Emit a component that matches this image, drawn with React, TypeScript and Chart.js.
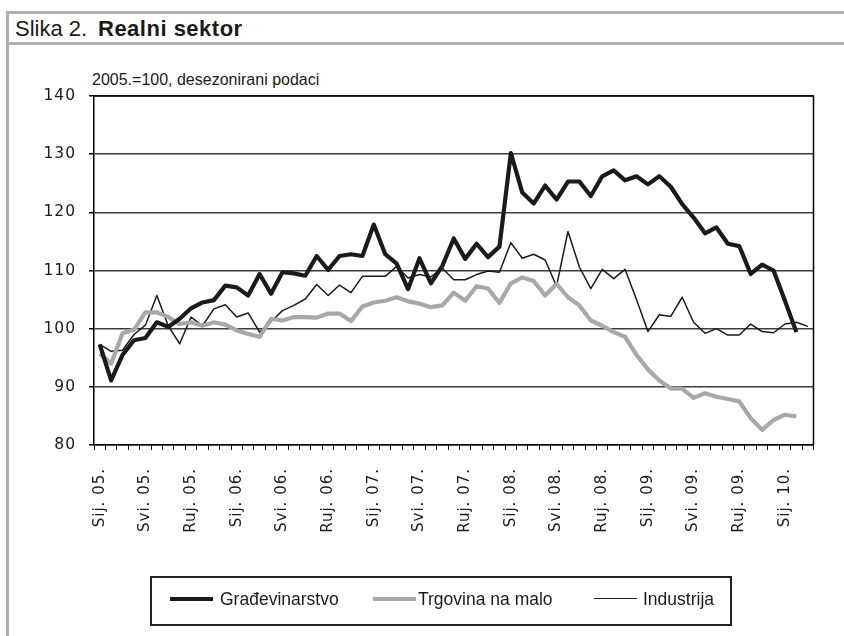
import React, { useEffect, useRef } from 'react';
import { Chart, registerables } from 'chart.js';

Chart.register(...registerables);

const categories: string[] = [
  'Sij. 05.', 'Velj. 05.', 'Ožu. 05.', 'Tra. 05.', 'Svi. 05.', 'Lip. 05.', 'Srp. 05.', 'Kol. 05.', 'Ruj. 05.', 'Lis. 05.', 'Stu. 05.', 'Pro. 05.',
  'Sij. 06.', 'Velj. 06.', 'Ožu. 06.', 'Tra. 06.', 'Svi. 06.', 'Lip. 06.', 'Srp. 06.', 'Kol. 06.', 'Ruj. 06.', 'Lis. 06.', 'Stu. 06.', 'Pro. 06.',
  'Sij. 07.', 'Velj. 07.', 'Ožu. 07.', 'Tra. 07.', 'Svi. 07.', 'Lip. 07.', 'Srp. 07.', 'Kol. 07.', 'Ruj. 07.', 'Lis. 07.', 'Stu. 07.', 'Pro. 07.',
  'Sij. 08.', 'Velj. 08.', 'Ožu. 08.', 'Tra. 08.', 'Svi. 08.', 'Lip. 08.', 'Srp. 08.', 'Kol. 08.', 'Ruj. 08.', 'Lis. 08.', 'Stu. 08.', 'Pro. 08.',
  'Sij. 09.', 'Velj. 09.', 'Ožu. 09.', 'Tra. 09.', 'Svi. 09.', 'Lip. 09.', 'Srp. 09.', 'Kol. 09.', 'Ruj. 09.', 'Lis. 09.', 'Stu. 09.', 'Pro. 09.',
  'Sij. 10.', 'Velj. 10.', 'Ožu. 10.',
];

const gradevinarstvo: (number | null)[] = [
  97.3, 91.1, 95.5, 98.0, 98.4, 101.1, 100.3, 101.7, 103.5, 104.5,
  104.9, 107.4, 107.1, 105.7, 109.4, 106.0, 109.7, 109.5, 109.1, 112.5,
  110.1, 112.5, 112.8, 112.5, 117.9, 112.8, 111.2, 106.8, 112.1, 107.8,
  110.8, 115.5, 112.0, 114.6, 112.3, 114.1, 130.2, 123.4, 121.5, 124.6,
  122.2, 125.3, 125.3, 122.8, 126.2, 127.2, 125.5, 126.2, 124.8, 126.2,
  124.4, 121.4, 119.1, 116.4, 117.4, 114.6, 114.2, 109.4, 111.0, 110.0,
  104.8, 99.4, null,
];

const trgovinaNaMalo: (number | null)[] = [
  95.7, 94.0, 99.2, 99.8, 102.8, 102.8, 102.0, 100.8, 101.1, 100.5,
  101.1, 100.7, 99.7, 99.1, 98.6, 101.7, 101.4, 102.0, 102.0, 101.9,
  102.6, 102.6, 101.3, 103.8, 104.5, 104.8, 105.4, 104.7, 104.3, 103.7,
  104.0, 106.2, 104.8, 107.3, 106.9, 104.4, 107.8, 108.8, 108.2, 105.7,
  107.7, 105.4, 104.0, 101.4, 100.5, 99.4, 98.6, 95.5, 93.0, 91.1,
  89.7, 89.7, 88.1, 88.9, 88.3, 87.9, 87.5, 84.6, 82.6, 84.3,
  85.2, 84.9, null,
];

const industrija: (number | null)[] = [
  97.3, 96.1, 96.3, 99.0, 100.6, 105.7, 100.5, 97.4, 102.0, 100.5,
  103.4, 104.1, 102.0, 102.7, 99.4, 101.2, 103.1, 104.0, 105.1, 107.6,
  105.7, 107.5, 106.2, 109.0, 109.0, 109.0, 110.7, 108.7, 109.3, 108.9,
  110.4, 108.4, 108.4, 109.3, 109.9, 109.7, 114.8, 112.1, 112.8, 111.8,
  107.3, 116.7, 110.6, 106.9, 110.2, 108.6, 110.2, 105.0, 99.5, 102.4,
  102.1, 105.4, 101.1, 99.2, 100.0, 98.9, 98.9, 100.8, 99.5, 99.3,
  100.8, 101.1, 100.4,
];

const seriesNames = ['Građevinarstvo', 'Trgovina na malo', 'Industrija'];
const yMin = 80;
const yMax = 140;
const yStep = 10;
const labelEvery = 4;

const DARK = '#1a1a1a';
const GREY = '#a8a8a8';

const spacingPlugin = {
  id: 'spacing',
  beforeUpdate(chart: any) { chart.ctx.letterSpacing = '1px'; },
  beforeDraw(chart: any) { chart.ctx.letterSpacing = '1px'; },
};

const boxPlugin = {
  id: 'box',
  beforeDatasetsDraw(chart: any) {
    const { ctx, chartArea } = chart;
    const { left, top, right, bottom } = chartArea;
    ctx.save();
    ctx.strokeStyle = '#000';
    ctx.lineWidth = 1.5;
    ctx.beginPath();
    ctx.moveTo(left, top);
    ctx.lineTo(right, top);
    ctx.lineTo(right, bottom);
    ctx.stroke();
    ctx.restore();
  },
};

export default function App() {
  const ref = useRef<HTMLCanvasElement | null>(null);

  useEffect(() => {
    if (!ref.current) return;
    const lineCommon = {
      pointRadius: 0,
      pointHoverRadius: 0,
      tension: 0,
      borderJoinStyle: 'round' as const,
      borderCapStyle: 'butt' as const,
      fill: false,
    };
    const chart = new Chart(ref.current, {
      type: 'line',
      data: {
        labels: categories,
        datasets: [
          { label: seriesNames[0], data: gradevinarstvo, borderColor: DARK, backgroundColor: DARK, borderWidth: 4.2, ...lineCommon },
          { label: seriesNames[1], data: trgovinaNaMalo, borderColor: GREY, backgroundColor: GREY, borderWidth: 4.2, ...lineCommon },
          { label: seriesNames[2], data: industrija, borderColor: DARK, backgroundColor: DARK, borderWidth: 1.5, ...lineCommon },
        ],
      },
      options: {
        responsive: false,
        animation: false,
        devicePixelRatio: 1,
        layout: { padding: { top: 96, right: 25, bottom: 91, left: 0 } },
        plugins: {
          legend: { display: false },
          tooltip: { enabled: false },
          title: { display: false },
        },
        scales: {
          x: {
            offset: true,
            grid: {
              offset: true,
              drawOnChartArea: false,
              drawTicks: true,
              tickLength: 5,
              tickColor: '#000',
              tickWidth: 1,
            },
            border: { display: true, color: '#000', width: 1.5 },
            ticks: {
              autoSkip: false,
              maxRotation: 90,
              minRotation: 90,
              padding: 18,
              color: DARK,
              font: { family: 'DejaVu Sans', size: 15 },
              callback: (_v: any, i: number) => (i % labelEvery === 0 ? categories[i] : ''),
            },
            afterFit: (s: any) => { s.height = 100; },
          },
          y: {
            min: yMin,
            max: yMax,
            ticks: {
              stepSize: yStep,
              padding: 13,
              color: DARK,
              font: { family: 'DejaVu Sans', size: 15.5 },
            },
            grid: {
              color: '#3c3c3c',
              lineWidth: 1.5,
              tickColor: '#000',
              tickLength: 5,
              drawTicks: true,
            },
            border: { display: true, color: '#000', width: 1.5 },
            afterFit: (s: any) => { s.width = 94; },
          },
        },
      },
      plugins: [spacingPlugin, boxPlugin],
    } as any);
    return () => chart.destroy();
  }, []);

  const frame = '#b0b0b0';
  const legendItem = (left: number, sampleColor: string, sampleH: number, textLeft: number, text: string) => (
    <>
      <div style={{ position: 'absolute', left, top: 598.5 - sampleH / 2, width: 43, height: sampleH, background: sampleColor }} />
      <div style={{ position: 'absolute', left: textLeft, top: 589, fontFamily: '"Liberation Sans", Arial, sans-serif', fontSize: 17.5, lineHeight: '20px', color: DARK, whiteSpace: 'nowrap' }}>{text}</div>
    </>
  );

  return (
    <div style={{ position: 'absolute', left: 0, top: 0, width: 844, height: 636, background: '#fff', overflow: 'hidden' }}>
      <div style={{ position: 'absolute', left: 6, top: 11, width: 838, height: 3, background: frame }} />
      <div style={{ position: 'absolute', left: 6, top: 42, width: 838, height: 3, background: frame }} />
      <div style={{ position: 'absolute', left: 6, top: 11, width: 3, height: 625, background: frame }} />
      <div style={{ position: 'absolute', left: 15, top: 17.5, fontFamily: '"Liberation Sans", Arial, sans-serif', fontSize: 22, lineHeight: '22px', color: DARK, whiteSpace: 'nowrap' }}>
        <span>Slika 2.</span>
        <span style={{ position: 'absolute', left: 83, top: 0, fontWeight: 'bold', letterSpacing: 0.5 }}>Realni sektor</span>
      </div>
      <div style={{ position: 'absolute', left: 92, top: 71.5, fontFamily: '"Liberation Sans", Arial, sans-serif', fontSize: 16, lineHeight: '16px', color: DARK, whiteSpace: 'nowrap' }}>
        2005.=100, desezonirani podaci
      </div>
      <canvas ref={ref} width={844} height={636} style={{ position: 'absolute', left: 0, top: 0 }} />
      <div style={{ position: 'absolute', left: 150, top: 576, width: 578, height: 46, border: '2px solid #222' }} />
      {legendItem(170, DARK, 4, 220, seriesNames[0])}
      {legendItem(373, GREY, 4, 418, seriesNames[1])}
      {legendItem(594, DARK, 1.5, 643, seriesNames[2])}
    </div>
  );
}
